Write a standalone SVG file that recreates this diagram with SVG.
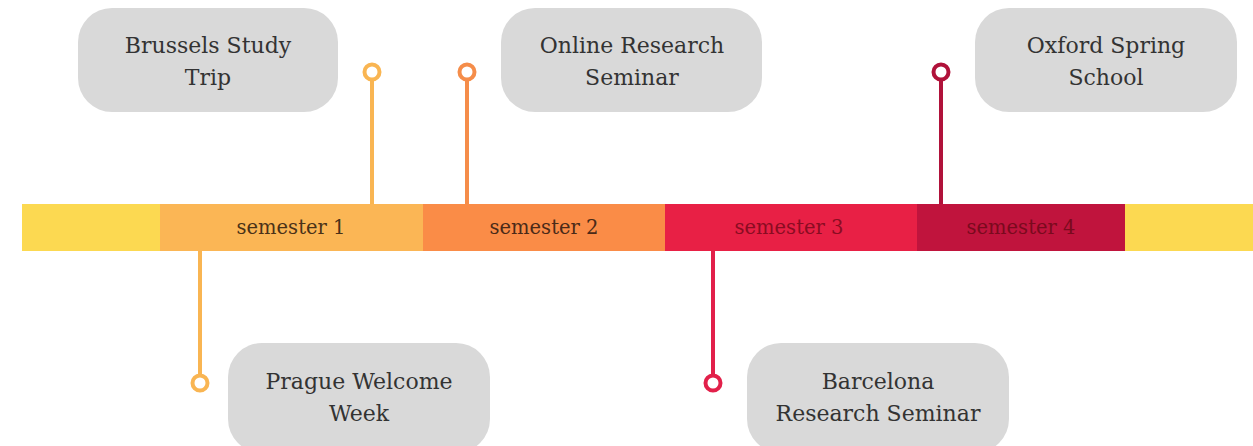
<svg xmlns="http://www.w3.org/2000/svg" width="1253" height="446" viewBox="0 0 1253 446">
<style>
.node rect{fill:#d9d9d9}
.node text{font-family:"DejaVu Serif","Liberation Serif",serif;font-size:22px;fill:#333;text-anchor:middle}
.seg text{font-family:"DejaVu Serif","Liberation Serif",serif;font-size:19.5px;text-anchor:middle}
.conn line{stroke-width:4}
.conn circle{fill:#fff;stroke-width:4}
</style>
<rect width="1253" height="446" fill="#fff"/>
<g id="timeline" class="seg">
<rect x="22" y="204" width="140" height="47" fill="#fcd951"/>
<rect x="160" y="204" width="264" height="47" fill="#fbb655"/>
<rect x="423" y="204" width="243" height="47" fill="#fa8c47"/>
<rect x="665" y="204" width="253" height="47" fill="#e82045"/>
<rect x="917" y="204" width="209" height="47" fill="#c0143d"/>
<rect x="1125" y="204" width="128" height="47" fill="#fcd951"/>
<text x="291" y="234" fill="#4a3218">semester 1</text>
<text x="544" y="234" fill="#4a2a18">semester 2</text>
<text x="789" y="234" fill="#8a0c22">semester 3</text>
<text x="1021" y="234" fill="#7a0a1e">semester 4</text>
</g>
<g id="connectors" class="conn">
<line x1="372" y1="80" x2="372" y2="204" stroke="#f9b552"/>
<circle cx="372" cy="72" r="7.5" stroke="#f9b552"/>
<line x1="467" y1="80" x2="467" y2="204" stroke="#f58d4a"/>
<circle cx="467" cy="72" r="7.5" stroke="#f58d4a"/>
<line x1="941" y1="80" x2="941" y2="204" stroke="#b0123a"/>
<circle cx="941" cy="72" r="7.5" stroke="#b0123a"/>
<line x1="200" y1="251" x2="200" y2="375" stroke="#f9b552"/>
<circle cx="200" cy="383" r="7.5" stroke="#f9b552"/>
<line x1="713" y1="251" x2="713" y2="375" stroke="#e2204a"/>
<circle cx="713" cy="383" r="7.5" stroke="#e2204a"/>
</g>
<g id="brussels" class="node">
<rect x="78" y="8" width="260" height="104" rx="34"/>
<text x="208" y="53">Brussels Study</text>
<text x="208" y="85">Trip</text>
</g>
<g id="online" class="node">
<rect x="501" y="8" width="261" height="104" rx="34"/>
<text x="632" y="53">Online Research</text>
<text x="632" y="85">Seminar</text>
</g>
<g id="oxford" class="node">
<rect x="975" y="8" width="262" height="104" rx="34"/>
<text x="1106" y="53">Oxford Spring</text>
<text x="1106" y="85">School</text>
</g>
<g id="prague" class="node">
<rect x="228" y="343" width="262" height="110" rx="34"/>
<text x="359" y="389">Prague Welcome</text>
<text x="359" y="421">Week</text>
</g>
<g id="barcelona" class="node">
<rect x="747" y="343" width="262" height="110" rx="34"/>
<text x="878" y="389">Barcelona</text>
<text x="878" y="421">Research Seminar</text>
</g>
</svg>
